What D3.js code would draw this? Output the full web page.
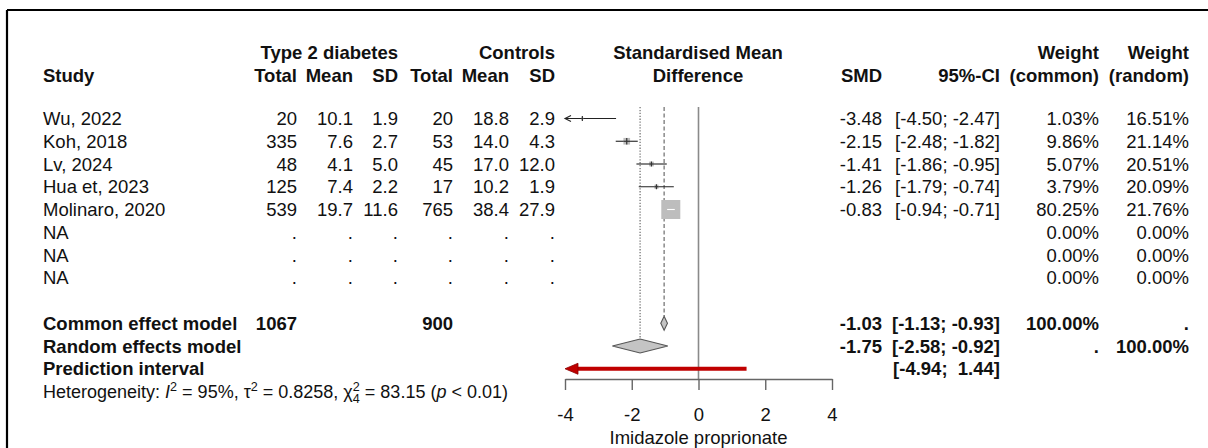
<!DOCTYPE html>
<html>
<head>
<meta charset="utf-8">
<script src="https://cdn.jsdelivr.net/npm/d3@7"></script>
<style>
  html, body { margin: 0; padding: 0; background: #fff; }
  svg text { font-family: "Liberation Sans", Arial, sans-serif; fill: #111; white-space: pre; }
</style>
</head>
<body>
<svg id="chart" width="1208" height="448"></svg>
<script>
// ---------------- data ----------------
const studies   = ["Wu, 2022", "Koh, 2018", "Lv, 2024", "Hua et, 2023", "Molinaro, 2020", "NA", "NA", "NA"];
const t2dTotal  = [20, 335, 48, 125, 539, null, null, null];
const t2dMean   = [10.1, 7.6, 4.1, 7.4, 19.7, null, null, null];
const t2dSD     = [1.9, 2.7, 5.0, 2.2, 11.6, null, null, null];
const ctrlTotal = [20, 53, 45, 17, 765, null, null, null];
const ctrlMean  = [18.8, 14.0, 17.0, 10.2, 38.4, null, null, null];
const ctrlSD    = [2.9, 4.3, 12.0, 1.9, 27.9, null, null, null];
const smd       = [-3.48, -2.15, -1.41, -1.26, -0.83, null, null, null];
const ciLow     = [-4.50, -2.48, -1.86, -1.79, -0.94, null, null, null];
const ciHigh    = [-2.47, -1.82, -0.95, -0.74, -0.71, null, null, null];
const wCommon   = [1.03, 9.86, 5.07, 3.79, 80.25, 0, 0, 0];
const wRandom   = [16.51, 21.14, 20.51, 20.09, 21.76, 0, 0, 0];
const commonTotals = [1067, 900];
const commonEst = [-1.03, -1.13, -0.93];
const randomEst = [-1.75, -2.58, -0.92];
const predInt   = [-4.94, 1.44];
const totalWeight = 100;
const axisTicks = [-4, -2, 0, 2, 4];
const hetI2 = "95%", hetTau2 = "0.8258", hetQ = "83.15", hetDf = "4", hetP = "< 0.01";
const axisTitle = "Imidazole proprionate";

// ---------------- layout ----------------
const FS = 18.5;
const svg = d3.select("#chart");
const x = d3.scaleLinear().domain([-4, 4]).range([565, 832]);
const rowY = i => 118.5 + 22.75 * i;   // text centre of row i
const hdr1 = 52, hdr2 = 75;
const axisY = 379;
const refTop = 107;

// border
svg.append("line").attr("x1", 7).attr("x2", 1208).attr("y1", 10).attr("y2", 10)
  .attr("stroke", "#000").attr("stroke-width", 2.2);
svg.append("line").attr("x1", 7).attr("x2", 7).attr("y1", 10).attr("y2", 448)
  .attr("stroke", "#000").attr("stroke-width", 2.2);

function txt(str, xx, yc, anchor, bold, size) {
  return svg.append("text").attr("x", xx).attr("y", yc).attr("dy", "0.36em")
    .attr("text-anchor", anchor || "start")
    .attr("font-size", size || FS)
    .attr("font-weight", bold ? "bold" : "normal")
    .text(str);
}

// column right edges
const colX = { study: 43, t2dTotal: 297, t2dMean: 353, t2dSD: 398, cTotal: 453, cMean: 509, cSD: 555,
               smd: 882, ci: 1000, wc: 1099, wr: 1189 };

// headers
txt("Type 2 diabetes", colX.t2dSD, hdr1, "end", true);
txt("Controls", colX.cSD, hdr1, "end", true);
txt("Standardised Mean", 698, hdr1, "middle", true);
txt("Difference", 698, hdr2, "middle", true);
txt("Weight", colX.wc, hdr1, "end", true);
txt("Weight", colX.wr, hdr1, "end", true);
txt("Study", colX.study, hdr2, "start", true);
txt("Total", colX.t2dTotal, hdr2, "end", true);
txt("Mean", colX.t2dMean, hdr2, "end", true);
txt("SD", colX.t2dSD, hdr2, "end", true);
txt("Total", colX.cTotal, hdr2, "end", true);
txt("Mean", colX.cMean, hdr2, "end", true);
txt("SD", colX.cSD, hdr2, "end", true);
txt("SMD", colX.smd, hdr2, "end", true);
txt("95%-CI", colX.ci, hdr2, "end", true);
txt("(common)", colX.wc, hdr2, "end", true);
txt("(random)", colX.wr, hdr2, "end", true);

const f1 = v => v == null ? "." : v.toFixed(1);
const f0 = v => v == null ? "." : String(v);
const f2 = v => (v < 0 ? "" : " ") + v.toFixed(2);
const fci = (lo, hi) => "[" + lo.toFixed(2) + "; " + f2(hi) + "]";

// study rows
studies.forEach((s, i) => {
  const y = rowY(i);
  txt(s, colX.study, y);
  txt(f0(t2dTotal[i]), colX.t2dTotal, y, "end");
  txt(f1(t2dMean[i]), colX.t2dMean, y, "end");
  txt(f1(t2dSD[i]), colX.t2dSD, y, "end");
  txt(f0(ctrlTotal[i]), colX.cTotal, y, "end");
  txt(f1(ctrlMean[i]), colX.cMean, y, "end");
  txt(f1(ctrlSD[i]), colX.cSD, y, "end");
  if (smd[i] != null) {
    txt(smd[i].toFixed(2), colX.smd, y, "end");
    txt(fci(ciLow[i], ciHigh[i]), colX.ci, y, "end");
  }
  txt(wCommon[i].toFixed(2) + "%", colX.wc, y, "end");
  txt(wRandom[i].toFixed(2) + "%", colX.wr, y, "end");
});

// summary rows
const rC = 9, rR = 10, rP = 11, rH = 12;
txt("Common effect model", colX.study, rowY(rC), "start", true);
txt(String(commonTotals[0]), colX.t2dTotal, rowY(rC), "end", true);
txt(String(commonTotals[1]), colX.cTotal, rowY(rC), "end", true);
txt(commonEst[0].toFixed(2), colX.smd, rowY(rC), "end", true);
txt(fci(commonEst[1], commonEst[2]), colX.ci, rowY(rC), "end", true);
txt(totalWeight.toFixed(2) + "%", colX.wc, rowY(rC), "end", true);
txt(".", colX.wr, rowY(rC), "end", true);

txt("Random effects model", colX.study, rowY(rR), "start", true);
txt(randomEst[0].toFixed(2), colX.smd, rowY(rR), "end", true);
txt(fci(randomEst[1], randomEst[2]), colX.ci, rowY(rR), "end", true);
txt(".", colX.wc, rowY(rR), "end", true);
txt(totalWeight.toFixed(2) + "%", colX.wr, rowY(rR), "end", true);

txt("Prediction interval", colX.study, rowY(rP), "start", true);
txt(fci(predInt[0], predInt[1]), colX.ci, rowY(rP), "end", true);

// heterogeneity
{
  const HS = 18;
  const t = svg.append("text").attr("x", colX.study).attr("y", rowY(rH)).attr("dy", "0.36em")
    .attr("font-size", HS);
  t.append("tspan").text("Heterogeneity: ");
  t.append("tspan").attr("font-style", "italic").text("I");
  t.append("tspan").attr("font-size", HS * 0.7).attr("dy", -7).text("2");
  t.append("tspan").attr("dy", 7).text(" = " + hetI2 + ", \u03C4");
  t.append("tspan").attr("font-size", HS * 0.7).attr("dy", -7).text("2");
  t.append("tspan").attr("dy", 7).text(" = " + hetTau2 + ", \u03C7");
  t.append("tspan").attr("font-size", HS * 0.7).attr("dy", -7).text("2");
  t.append("tspan").attr("font-size", HS * 0.7).attr("dy", 12).attr("dx", -7).text(hetDf);
  t.append("tspan").attr("dy", -5).text(" = " + hetQ + " (");
  t.append("tspan").attr("font-style", "italic").text("p");
  t.append("tspan").text(" " + hetP + ")");
}

// ---------------- forest graphics ----------------
const g = svg.append("g");
// zero line
g.append("line").attr("x1", x(0)).attr("x2", x(0)).attr("y1", refTop).attr("y2", axisY)
  .attr("stroke", "#8a8a8a").attr("stroke-width", 1.6);
const dH = 7;
// common effect reference (dashed)
g.append("line").attr("x1", x(commonEst[0])).attr("x2", x(commonEst[0]))
  .attr("y1", refTop).attr("y2", rowY(rC) - dH)
  .attr("stroke", "#777").attr("stroke-width", 1.3).attr("stroke-dasharray", "4,2.5");
// random effects reference (dotted)
g.append("line").attr("x1", x(randomEst[0])).attr("x2", x(randomEst[0]))
  .attr("y1", refTop).attr("y2", rowY(rR) - dH)
  .attr("stroke", "#777").attr("stroke-width", 1.3).attr("stroke-dasharray", "1.3,1.6");

const sq = d3.scaleSqrt().domain([0, d3.max(wCommon)]).range([0, 19]);
const [xmin, xmax] = x.domain();
smd.forEach((m, i) => {
  if (m == null) return;
  const y = rowY(i);
  const lo = Math.max(ciLow[i], xmin), hi = Math.min(ciHigh[i], xmax);
  g.append("line").attr("x1", x(lo)).attr("x2", x(hi)).attr("y1", y).attr("y2", y)
    .attr("stroke", "#222").attr("stroke-width", 1.1);
  if (ciLow[i] < xmin) {
    g.append("path")
      .attr("d", `M${x(xmin) + 6},${y - 3} L${x(xmin)},${y} L${x(xmin) + 6},${y + 3}`)
      .attr("fill", "none").attr("stroke", "#222").attr("stroke-width", 1.1);
  }
  const s = Math.max(sq(wCommon[i]), 2);
  g.append("rect").attr("x", x(m) - s / 2).attr("y", y - s / 2).attr("width", s).attr("height", s)
    .attr("fill", "#bdbdbd").attr("stroke", "none");
  const inside = x(ciLow[i]) >= x(m) - s / 2 && x(ciHigh[i]) <= x(m) + s / 2;
  if (inside) {
    g.append("line").attr("x1", x(ciLow[i])).attr("x2", x(ciHigh[i])).attr("y1", y).attr("y2", y)
      .attr("stroke", "#fff").attr("stroke-width", 1.1);
  } else {
    g.append("line").attr("x1", x(m) - s / 2).attr("x2", x(m) + s / 2).attr("y1", y).attr("y2", y)
      .attr("stroke", "#222").attr("stroke-width", 1.1);
    g.append("line").attr("x1", x(m)).attr("x2", x(m)).attr("y1", y - Math.max(s / 2, 2.5)).attr("y2", y + Math.max(s / 2, 2.5))
      .attr("stroke", "#333").attr("stroke-width", 1.2);
  }
});

function diamond(est, y) {
  g.append("path")
    .attr("d", `M${x(est[1])},${y} L${x(est[0])},${y - dH} L${x(est[2])},${y} L${x(est[0])},${y + dH} Z`)
    .attr("fill", "#c4c4c4").attr("stroke", "#555").attr("stroke-width", 1.1);
}
diamond(commonEst, rowY(rC));
diamond(randomEst, rowY(rR));

// prediction interval (red, clipped with arrow)
{
  const y = rowY(rP);
  const lo = Math.max(predInt[0], xmin), hi = Math.min(predInt[1], xmax);
  g.append("line").attr("x1", x(lo) + 10).attr("x2", x(hi)).attr("y1", y).attr("y2", y)
    .attr("stroke", "#c00000").attr("stroke-width", 4.2);
  g.append("path")
    .attr("d", `M${x(lo)},${y} L${x(lo) + 13},${y - 5.5} L${x(lo) + 13},${y + 5.5} Z`)
    .attr("fill", "#c00000").attr("stroke", "#8b0000").attr("stroke-width", 0.8);
}

// axis
const axis = d3.axisBottom(x).tickValues(axisTicks).tickSize(11).tickSizeOuter(0).tickPadding(18)
  .tickFormat(d => String(d));
const ag = svg.append("g").attr("transform", `translate(0,${axisY})`).call(axis);
ag.select(".domain").attr("stroke", "#666").attr("stroke-width", 1.4);
ag.selectAll(".tick line").attr("stroke", "#666").attr("stroke-width", 1.4);
ag.selectAll(".tick text").attr("font-size", FS).attr("font-family", "Liberation Sans, Arial, sans-serif").attr("fill", "#111");

svg.append("text").attr("x", x(0)).attr("y", 437).attr("dy", "0.36em")
  .attr("text-anchor", "middle").attr("font-size", FS).text(axisTitle);
</script>
</body>
</html>
